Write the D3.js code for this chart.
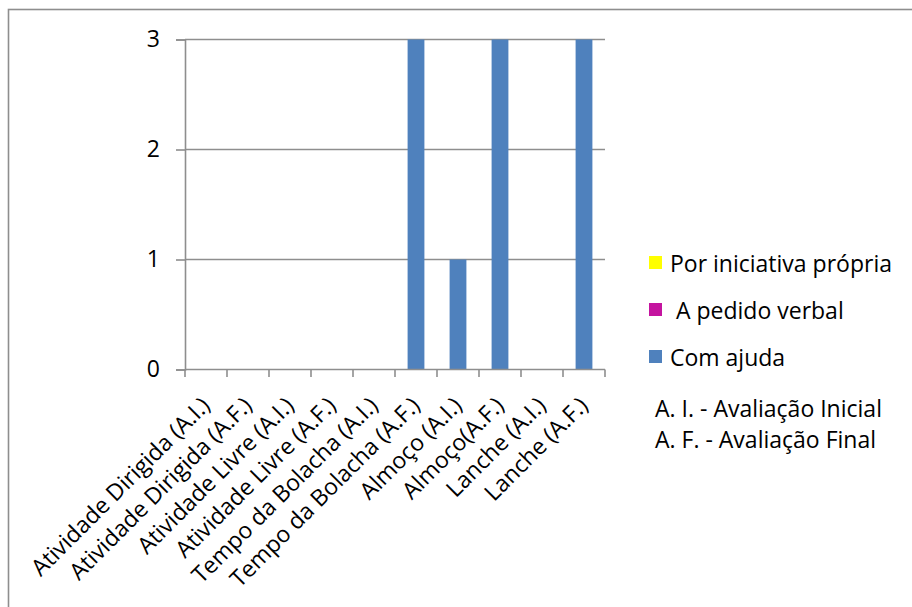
<!DOCTYPE html>
<html>
<head>
<meta charset="utf-8">
<script src="https://cdn.jsdelivr.net/npm/d3@7"></script>
<style>
  html, body { margin: 0; padding: 0; background: #fff; }
  svg { display: block; }
  text { font-family: "Open Sans", Lato, sans-serif; fill: #000; }
</style>
</head>
<body>
<svg id="chart" width="912" height="607"></svg>
<script>
// Activities, each observed at the initial (A.I.) and final (A.F.) assessment
const categories = [
  "Atividade Dirigida (A.I.)",
  "Atividade Dirigida (A.F.)",
  "Atividade Livre (A.I.)",
  "Atividade Livre (A.F.)",
  "Tempo da Bolacha (A.I.)",
  "Tempo da Bolacha (A.F.)",
  "Almoço (A.I.)",
  "Almoço(A.F.)",
  "Lanche (A.I.)",
  "Lanche (A.F.)"
];
const seriesNames = ["Por iniciativa própria", " A pedido verbal", "Com ajuda"];
const porIniciativa = [0, 0, 0, 0, 0, 0, 0, 0, 0, 0];
const aPedidoVerbal = [0, 0, 0, 0, 0, 0, 0, 0, 0, 0];
const comAjuda      = [0, 0, 0, 0, 0, 3, 1, 3, 0, 3];
const seriesColors  = ["#ffff00", "#c4149f", "#4f81bd"];
const yTicks = [0, 1, 2, 3];
const notes = ["A. I. - Avaliação Inicial", "A. F. - Avaliação Final"];

const FONT = "'Open Sans', Lato, sans-serif";
const FS = "23px";

const rows = categories.map((c, i) => ({
  cat: c,
  s0: porIniciativa[i],
  s1: aPedidoVerbal[i],
  s2: comAjuda[i]
}));
const stacked = d3.stack().keys(["s0", "s1", "s2"])(rows);

const svg = d3.select("#chart");
const axisColor = "#8e8e8e";

// chart frame (only the top and left edges fall inside the view)
svg.append("rect")
  .attr("x", 8.5).attr("y", 9.5)
  .attr("width", 960).attr("height", 660)
  .attr("fill", "#fff")
  .attr("stroke", axisColor).attr("stroke-width", 1.6);

const plot = { left: 185, right: 605, top: 39.5, bottom: 369.5 };

const x = d3.scaleBand()
  .domain(categories)
  .range([plot.left, plot.right])
  .paddingInner(0.6)
  .paddingOuter(0.3);

const y = d3.scaleLinear()
  .domain([0, 3])
  .range([plot.bottom, plot.top]);

// horizontal gridlines
svg.append("g")
  .selectAll("line")
  .data(yTicks.filter(v => v > 0))
  .join("line")
  .attr("x1", plot.left).attr("x2", plot.right)
  .attr("y1", d => y(d)).attr("y2", d => y(d))
  .attr("stroke", axisColor).attr("stroke-width", 1.6);

// y axis
const yAxis = svg.append("g")
  .attr("transform", `translate(${plot.left},0)`)
  .call(d3.axisLeft(y).tickValues(yTicks).tickFormat(d3.format("d")).tickSize(9).tickPadding(16));
yAxis.select(".domain").attr("stroke", axisColor).attr("stroke-width", 1.6);
yAxis.selectAll(".tick line").attr("stroke", axisColor).attr("stroke-width", 1.6);
yAxis.selectAll(".tick text")
  .style("font-family", FONT)
  .style("font-size", FS).attr("fill", "#000");

// bars
svg.append("g")
  .selectAll("g")
  .data(stacked)
  .join("g")
  .attr("fill", (d, i) => seriesColors[i])
  .selectAll("rect")
  .data(d => d.filter(p => p[1] - p[0] > 0))
  .join("rect")
  .attr("x", d => x(d.data.cat))
  .attr("width", x.bandwidth())
  .attr("y", d => y(d[1]))
  .attr("height", d => y(d[0]) - y(d[1]));

// x axis line with ticks at category boundaries
const half = x.step() * x.paddingInner() / 2;
const bounds = categories.map(c => x(c) - half).concat([plot.right]);
svg.append("line")
  .attr("x1", plot.left).attr("x2", plot.right)
  .attr("y1", plot.bottom).attr("y2", plot.bottom)
  .attr("stroke", axisColor).attr("stroke-width", 1.6);
svg.append("g")
  .selectAll("line")
  .data(bounds)
  .join("line")
  .attr("x1", d => d).attr("x2", d => d)
  .attr("y1", plot.bottom).attr("y2", plot.bottom + 7.5)
  .attr("stroke", axisColor).attr("stroke-width", 1.6);

// rotated category labels
const xAxis = svg.append("g")
  .attr("transform", `translate(0,${plot.bottom})`)
  .call(d3.axisBottom(x).tickSize(0).tickSizeOuter(0));
xAxis.select(".domain").remove();
xAxis.selectAll(".tick text")
  .style("font-family", FONT)
  .style("font-size", FS).attr("fill", "#000")
  .attr("text-anchor", "end")
  .attr("dy", null).attr("y", null)
  .attr("dominant-baseline", "central")
  .attr("transform", "translate(-1,31) rotate(-45)");

// legend
const legend = svg.append("g");
const legendRows = [263, 310, 357];
seriesNames.forEach((name, i) => {
  legend.append("rect")
    .attr("x", 649).attr("y", legendRows[i] - 7)
    .attr("width", 13).attr("height", 13)
    .attr("fill", seriesColors[i]);
  legend.append("text")
    .attr("x", 670).attr("y", legendRows[i])
    .attr("dominant-baseline", "central")
    .style("font-size", FS)
    .style("white-space", "pre")
    .attr("xml:space", "preserve")
    .text(name);
});
notes.forEach((t, i) => {
  legend.append("text")
    .attr("x", 655).attr("y", 408 + i * 31)
    .attr("dominant-baseline", "central")
    .style("font-size", FS)
    .text(t);
});
</script>
</body>
</html>
